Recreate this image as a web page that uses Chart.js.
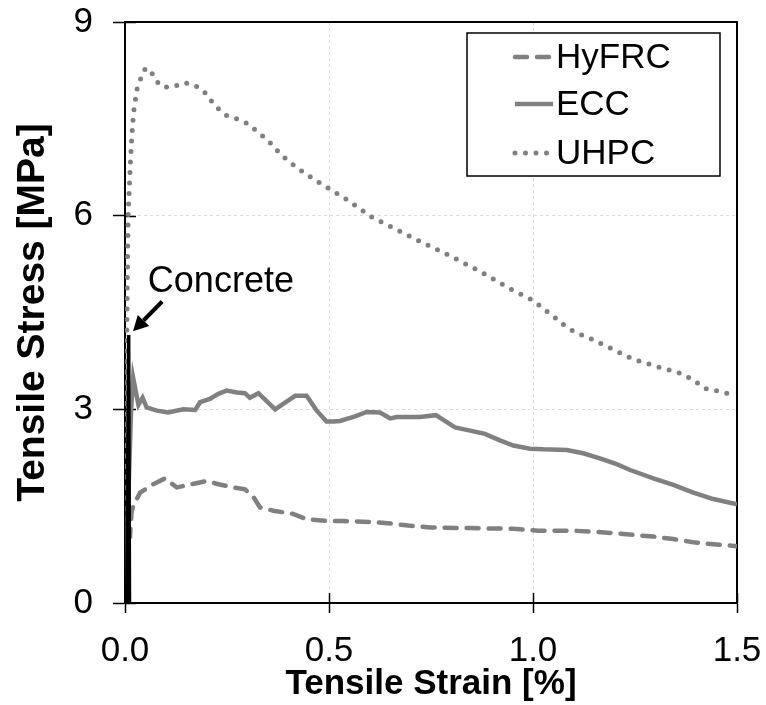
<!DOCTYPE html>
<html><head><meta charset="utf-8">
<script src="https://cdn.jsdelivr.net/npm/chart.js@4"></script>
<style>html,body{margin:0;padding:0;background:#fff}#wrap{width:766px;height:705px}</style>
</head><body><div id="wrap"><canvas id="c" width="766" height="705"></canvas></div>
<script>
// ---- data ----
const seriesNames = ['HyFRC', 'ECC', 'UHPC'];
const xTickValues = [0, 0.5, 1.0, 1.5];
const yTickValues = [0, 3, 6, 9];

const hyfrcStrain = [0,0.004,0.008,0.012,0.016,0.02,0.037,0.069,0.098,0.127,0.163,0.2,0.229,0.265,0.294,0.315,0.331,0.364,0.412,0.445,0.494,0.535,0.584,0.637,0.694,0.748,0.846,0.952,1.013,1.042,1.099,1.156,1.205,1.254,1.295,1.344,1.393,1.442,1.5];
const hyfrcStress = [0,0.8,1.2,1.0,1.4,1.5,1.71,1.84,1.93,1.79,1.84,1.89,1.84,1.79,1.76,1.64,1.48,1.43,1.38,1.3,1.27,1.27,1.26,1.24,1.2,1.17,1.16,1.15,1.12,1.12,1.12,1.1,1.08,1.05,1.03,0.99,0.94,0.91,0.88];

const eccStrain = [0,0.005,0.01,0.015,0.02,0.033,0.043,0.053,0.078,0.106,0.143,0.172,0.184,0.208,0.229,0.249,0.274,0.294,0.306,0.327,0.368,0.396,0.417,0.445,0.47,0.494,0.51,0.527,0.564,0.592,0.625,0.65,0.666,0.723,0.762,0.809,0.846,0.882,0.919,0.952,0.993,1.025,1.083,1.123,1.164,1.205,1.238,1.295,1.344,1.393,1.442,1.5];
const eccStress = [0,1.0,2.0,3.0,3.49,3.07,3.18,3.03,2.98,2.95,3.0,2.99,3.11,3.16,3.24,3.29,3.26,3.25,3.18,3.25,3.0,3.12,3.21,3.21,2.98,2.81,2.81,2.82,2.89,2.96,2.95,2.86,2.88,2.88,2.91,2.72,2.67,2.62,2.52,2.44,2.39,2.38,2.37,2.32,2.24,2.15,2.06,1.93,1.83,1.71,1.61,1.53];

const uhpcStrain = [0,0.002,0.004,0.0066,0.008,0.0115,0.014,0.017,0.021,0.029,0.037,0.049,0.061,0.074,0.093,0.119,0.145,0.171,0.194,0.21,0.228,0.249,0.274,0.299,0.321,0.342,0.362,0.38,0.4,0.422,0.466,0.49,0.512,0.537,0.604,0.701,0.799,0.872,0.943,0.993,1.014,1.034,1.056,1.077,1.099,1.124,1.15,1.175,1.2,1.224,1.249,1.275,1.3,1.327,1.352,1.377,1.4,1.423,1.449,1.475,1.5];
const uhpcStress = [0,2.0,4.0,5.53,6.05,6.56,6.92,7.26,7.6,7.95,8.1,8.27,8.27,8.1,7.99,8.0,8.06,8.02,7.92,7.79,7.66,7.55,7.5,7.43,7.32,7.21,7.09,6.96,6.85,6.74,6.55,6.46,6.37,6.28,5.98,5.67,5.37,5.13,4.87,4.71,4.62,4.52,4.41,4.3,4.21,4.14,4.07,3.99,3.92,3.84,3.77,3.72,3.67,3.62,3.58,3.51,3.42,3.32,3.29,3.25,3.22];

const concreteStrain = [0.004, 0.009, 0.011];
const concreteStress = [0, 4.15, 0];

// annotation anchors (data units)
const concreteLabel = 'Concrete';
const concreteLabelAt = [0.056, 4.81];
const arrowTail = [0.091, 4.67];
const arrowHead = [0.0196, 4.21];

// ---- drawing ----
const FONT = "'Liberation Sans', Arial, sans-serif";
const GRAY = '#808080';
const pts = (xs, ys) => xs.map((x, i) => ({x: x, y: ys[i]}));

const framePlugin = {
  id: 'frame',
  beforeDatasetsDraw(chart) {
    const {ctx, chartArea: a, scales} = chart;
    ctx.save();
    ctx.strokeStyle = '#000';
    ctx.lineWidth = 1.5;
    yTickValues.forEach(v => {
      const y = Math.round(scales.y.getPixelForValue(v)) + 0.5;
      ctx.beginPath(); ctx.moveTo(a.left, y); ctx.lineTo(a.left + 11, y); ctx.stroke();
    });
    xTickValues.forEach(v => {
      const x = Math.round(scales.x.getPixelForValue(v)) + 0.5;
      ctx.beginPath(); ctx.moveTo(x, a.bottom); ctx.lineTo(x, a.bottom - 10); ctx.stroke();
    });
    ctx.lineWidth = 2;
    ctx.strokeRect(a.left, a.top, a.right - a.left, a.bottom - a.top);
    ctx.restore();
  },
  afterDraw(chart) {
    const {ctx, chartArea: a, scales} = chart;
    ctx.save();
    ctx.fillStyle = '#000';
    ctx.font = '36px ' + FONT;
    ctx.textBaseline = 'alphabetic';
    ctx.textAlign = 'left';
    ctx.fillText(concreteLabel, scales.x.getPixelForValue(concreteLabelAt[0]), scales.y.getPixelForValue(concreteLabelAt[1]));
    const tx = scales.x.getPixelForValue(arrowTail[0]), ty = scales.y.getPixelForValue(arrowTail[1]);
    const hx = scales.x.getPixelForValue(arrowHead[0]), hy = scales.y.getPixelForValue(arrowHead[1]);
    const ang = Math.atan2(hy - ty, hx - tx);
    const L = 15, W = 8;
    const bx = hx - L * Math.cos(ang), by = hy - L * Math.sin(ang);
    ctx.strokeStyle = '#000'; ctx.lineWidth = 4;
    ctx.beginPath(); ctx.moveTo(tx, ty); ctx.lineTo(bx, by); ctx.stroke();
    ctx.beginPath();
    ctx.moveTo(hx, hy);
    ctx.lineTo(bx + W * Math.sin(ang), by - W * Math.cos(ang));
    ctx.lineTo(bx - W * Math.sin(ang), by + W * Math.cos(ang));
    ctx.closePath(); ctx.fill();

    // Legend
    const lx = a.right - 270, ly = a.top + 11, lw = 253, lh = 143;
    ctx.fillStyle = '#fff';
    ctx.fillRect(lx, ly, lw, lh);
    ctx.strokeStyle = '#000'; ctx.lineWidth = 1.5;
    ctx.strokeRect(lx, ly, lw, lh);
    const rows = [ly + 24, ly + 71, ly + 120];
    const styles = chart.data.datasets.slice(1);
    seriesNames.forEach((name, i) => {
      const ds = styles[i];
      ctx.save();
      ctx.strokeStyle = ds.borderColor;
      ctx.lineWidth = ds.borderWidth;
      ctx.lineCap = ds.borderCapStyle || 'butt';
      ctx.setLineDash(ds.borderDash || []);
      ctx.beginPath(); ctx.moveTo(lx + 48, rows[i]); ctx.lineTo(lx + 86, rows[i]); ctx.stroke();
      ctx.restore();
      ctx.fillStyle = '#000';
      ctx.font = '35px ' + FONT;
      ctx.textBaseline = 'middle';
      ctx.fillText(name, lx + 89, rows[i] + 1);
    });
    ctx.restore();
  }
};

new Chart(document.getElementById('c'), {
  type: 'line',
  data: {
    datasets: [
      {label: 'Concrete', data: pts(concreteStrain, concreteStress), borderColor: '#000', borderWidth: 3.5, pointRadius: 0, tension: 0},
      {label: seriesNames[0], data: pts(hyfrcStrain, hyfrcStress), borderColor: GRAY, borderWidth: 4.5, borderDash: [12, 10], borderCapStyle: 'round', pointRadius: 0, tension: 0},
      {label: seriesNames[1], data: pts(eccStrain, eccStress), borderColor: GRAY, borderWidth: 4.5, pointRadius: 0, tension: 0},
      {label: seriesNames[2], data: pts(uhpcStrain, uhpcStress), borderColor: GRAY, borderWidth: 5, borderDash: [0, 10.5], borderCapStyle: 'round', pointRadius: 0, tension: 0}
    ]
  },
  options: {
    responsive: false, animation: false, devicePixelRatio: 1,
    layout: {padding: {top: 22, right: 29, left: 0, bottom: 0}},
    plugins: {legend: {display: false}, tooltip: {enabled: false}},
    scales: {
      x: {
        type: 'linear', min: 0, max: 1.5,
        afterFit(s) { s.height = 102; s.paddingLeft = 0; s.paddingRight = 0; },
        afterBuildTicks(s) { s.ticks = xTickValues.map(v => ({value: v})); },
        ticks: {callback: v => v.toFixed(1), font: {family: FONT, size: 35}, color: '#000', padding: 17, maxRotation: 0, autoSkip: false},
        grid: {color: c => (c.tick && (c.tick.value === 0 || c.tick.value === 1.5)) ? 'rgba(0,0,0,0)' : '#dcdcdc', tickColor: '#000', tickLength: 10, lineWidth: 1, tickWidth: 1.5},
        border: {display: true, color: '#000', width: 2, dash: [3, 3]},
        title: {display: true, text: 'Tensile Strain [%]', font: {family: FONT, size: 35, weight: 'bold'}, color: '#000', padding: {top: 0, bottom: 0}}
      },
      y: {
        type: 'linear', min: 0, max: 9,
        afterFit(s) { s.width = 125; s.paddingTop = 0; s.paddingBottom = 0; },
        afterBuildTicks(s) { s.ticks = yTickValues.map(v => ({value: v})); },
        ticks: {font: {family: FONT, size: 35}, color: '#000', padding: 20, autoSkip: false},
        grid: {color: c => (c.tick && (c.tick.value === 0 || c.tick.value === 9)) ? 'rgba(0,0,0,0)' : '#dcdcdc', tickColor: '#000', tickLength: 12, lineWidth: 1, tickWidth: 1.5},
        border: {display: true, color: '#000', width: 2, dash: [3, 3]},
        title: {display: true, text: 'Tensile Stress [MPa]', font: {family: FONT, size: 39, weight: 'bold'}, color: '#000', padding: {top: 10, bottom: 0}}
      }
    }
  },
  plugins: [framePlugin]
});
</script>
</body></html>
